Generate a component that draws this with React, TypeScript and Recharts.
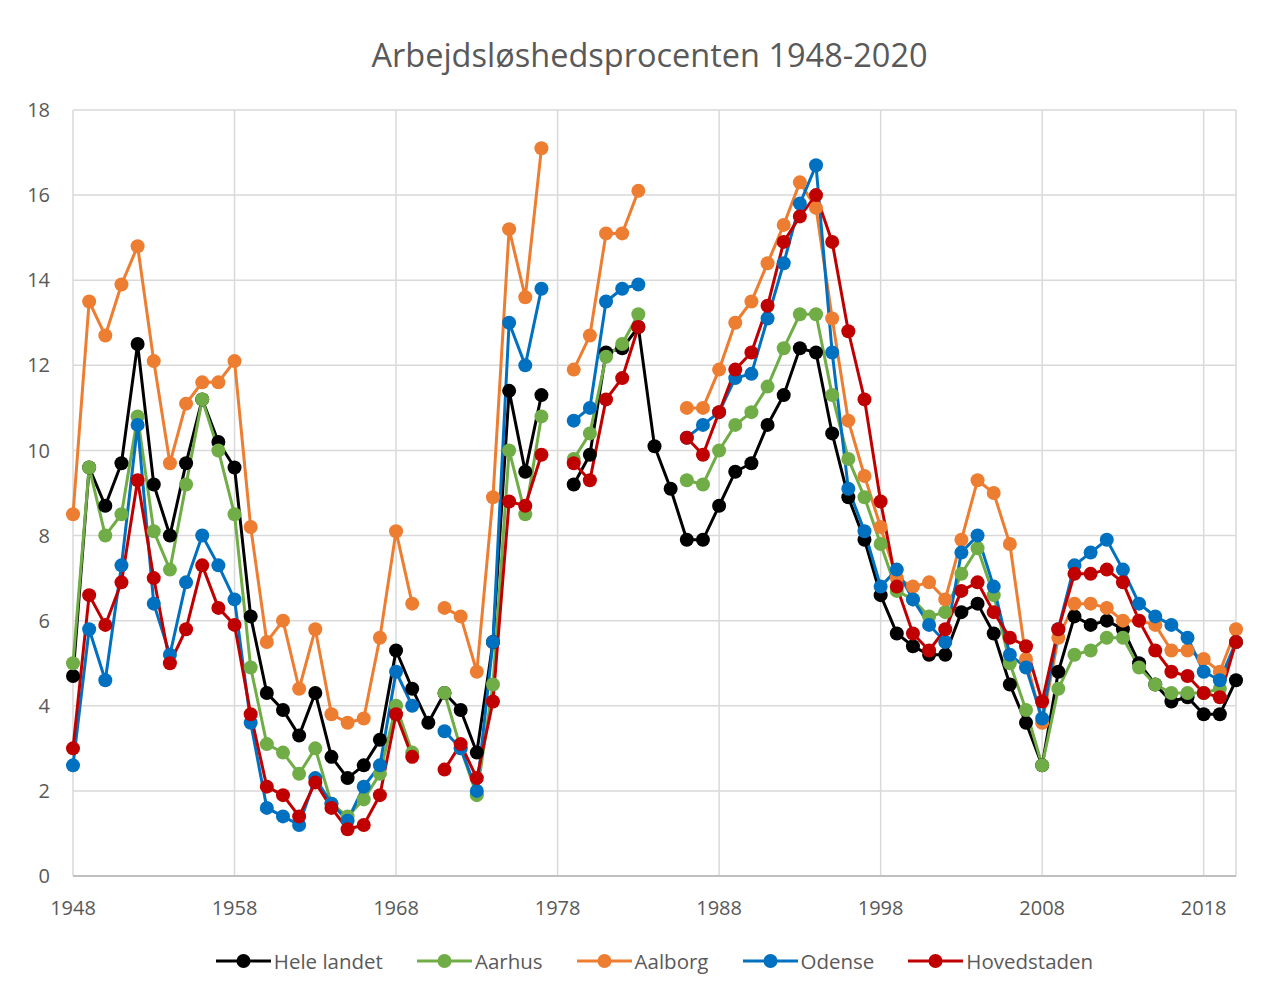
import React from 'react';
import { LineChart, Line, XAxis, YAxis, CartesianGrid, Legend } from 'recharts';

const years: number[] = [];
for (let y = 1948; y <= 2020; y++) years.push(y);

// 1948 ... 2020 (73 values); null = no data
const heleLandet = [
  4.7, 9.6, 8.7, 9.7, 12.5, 9.2, 8.0, 9.7, 11.2, 10.2,
  9.6, 6.1, 4.3, 3.9, 3.3, 4.3, 2.8, 2.3, 2.6, 3.2,
  5.3, 4.4, 3.6, 4.3, 3.9, 2.9, 5.5, 11.4, 9.5, 11.3,
  null, 9.2, 9.9, 12.3, 12.4, 12.9, 10.1, 9.1, 7.9, 7.9,
  8.7, 9.5, 9.7, 10.6, 11.3, 12.4, 12.3, 10.4, 8.9, 7.9,
  6.6, 5.7, 5.4, 5.2, 5.2, 6.2, 6.4, 5.7, 4.5, 3.6,
  2.6, 4.8, 6.1, 5.9, 6.0, 5.8, 5.0, 4.5, 4.1, 4.2,
  3.8, 3.8, 4.6,
];
const aarhus = [
  5.0, 9.6, 8.0, 8.5, 10.8, 8.1, 7.2, 9.2, 11.2, 10.0,
  8.5, 4.9, 3.1, 2.9, 2.4, 3.0, 1.7, 1.4, 1.8, 2.4,
  4.0, 2.9, null, 4.3, 3.0, 1.9, 4.5, 10.0, 8.5, 10.8,
  null, 9.8, 10.4, 12.2, 12.5, 13.2, null, null, 9.3, 9.2,
  10.0, 10.6, 10.9, 11.5, 12.4, 13.2, 13.2, 11.3, 9.8, 8.9,
  7.8, 6.7, 6.5, 6.1, 6.2, 7.1, 7.7, 6.6, 5.0, 3.9,
  2.6, 4.4, 5.2, 5.3, 5.6, 5.6, 4.9, 4.5, 4.3, 4.3,
  4.3, 4.4, 5.5,
];
const aalborg = [
  8.5, 13.5, 12.7, 13.9, 14.8, 12.1, 9.7, 11.1, 11.6, 11.6,
  12.1, 8.2, 5.5, 6.0, 4.4, 5.8, 3.8, 3.6, 3.7, 5.6,
  8.1, 6.4, null, 6.3, 6.1, 4.8, 8.9, 15.2, 13.6, 17.1,
  null, 11.9, 12.7, 15.1, 15.1, 16.1, null, null, 11.0, 11.0,
  11.9, 13.0, 13.5, 14.4, 15.3, 16.3, 15.7, 13.1, 10.7, 9.4,
  8.2, 7.0, 6.8, 6.9, 6.5, 7.9, 9.3, 9.0, 7.8, 5.1,
  3.6, 5.6, 6.4, 6.4, 6.3, 6.0, 6.0, 5.9, 5.3, 5.3,
  5.1, 4.8, 5.8,
];
const odense = [
  2.6, 5.8, 4.6, 7.3, 10.6, 6.4, 5.2, 6.9, 8.0, 7.3,
  6.5, 3.6, 1.6, 1.4, 1.2, 2.3, 1.7, 1.3, 2.1, 2.6,
  4.8, 4.0, null, 3.4, 3.0, 2.0, 5.5, 13.0, 12.0, 13.8,
  null, 10.7, 11.0, 13.5, 13.8, 13.9, null, null, 10.3, 10.6,
  10.9, 11.7, 11.8, 13.1, 14.4, 15.8, 16.7, 12.3, 9.1, 8.1,
  6.8, 7.2, 6.5, 5.9, 5.5, 7.6, 8.0, 6.8, 5.2, 4.9,
  3.7, 5.8, 7.3, 7.6, 7.9, 7.2, 6.4, 6.1, 5.9, 5.6,
  4.8, 4.6, 5.5,
];
const hovedstaden = [
  3.0, 6.6, 5.9, 6.9, 9.3, 7.0, 5.0, 5.8, 7.3, 6.3,
  5.9, 3.8, 2.1, 1.9, 1.4, 2.2, 1.6, 1.1, 1.2, 1.9,
  3.8, 2.8, null, 2.5, 3.1, 2.3, 4.1, 8.8, 8.7, 9.9,
  null, 9.7, 9.3, 11.2, 11.7, 12.9, null, null, 10.3, 9.9,
  10.9, 11.9, 12.3, 13.4, 14.9, 15.5, 16.0, 14.9, 12.8, 11.2,
  8.8, 6.8, 5.7, 5.3, 5.8, 6.7, 6.9, 6.2, 5.6, 5.4,
  4.1, 5.8, 7.1, 7.1, 7.2, 6.9, 6.0, 5.3, 4.8, 4.7,
  4.3, 4.2, 5.5,
];

const xTicks = [1948, 1958, 1968, 1978, 1988, 1998, 2008, 2018];
const yTicks = [0, 2, 4, 6, 8, 10, 12, 14, 16, 18];

const seriesNames = ['Hele landet', 'Aarhus', 'Aalborg', 'Odense', 'Hovedstaden'];
const seriesKeys = ['hele', 'aarhus', 'aalborg', 'odense', 'hoved'];
const seriesColors = ['#000000', '#70AD47', '#ED7D31', '#0070C0', '#C00000'];
const seriesValues = [heleLandet, aarhus, aalborg, odense, hovedstaden];

const data = years.map((year, i) => {
  const row: Record<string, number | null> = { year };
  seriesKeys.forEach((k, j) => {
    row[k] = seriesValues[j][i];
  });
  return row;
});

const FONT = '"Open Sans", sans-serif';
const TEXT = '#595959';

const renderLegend = () => (
  <div
    style={{
      display: 'flex',
      justifyContent: 'center',
      alignItems: 'center',
      height: 55,
      paddingBottom: 6,
      boxSizing: 'border-box',
      fontFamily: FONT,
      fontSize: 20.5,
      color: TEXT,
    }}
  >
    {seriesNames.map((name, i) => (
      <div
        key={name}
        style={{ display: 'flex', alignItems: 'center', marginRight: i < seriesNames.length - 1 ? 34 : 0 }}
      >
        <svg width={55} height={16}>
          <line x1={0} y1={8} x2={55} y2={8} stroke={seriesColors[i]} strokeWidth={3} />
          <circle cx={27.5} cy={8} r={7} fill={seriesColors[i]} />
        </svg>
        <span style={{ marginLeft: 3 }}>{name}</span>
      </div>
    ))}
  </div>
);

export default function App() {
  return (
    <div style={{ position: 'absolute', left: 0, top: 0, width: 1288, height: 991, background: '#fff' }}>
      <div
        style={{
          position: 'absolute',
          left: 0,
          top: 33,
          width: 1299,
          textAlign: 'center',
          fontFamily: FONT,
          fontSize: 32.5,
          lineHeight: '44px',
          color: TEXT,
          zIndex: 2,
        }}
      >
        Arbejdsløshedsprocenten 1948-2020
      </div>
      <LineChart width={1288} height={991} data={data} margin={{ top: 110, right: 52, left: 0, bottom: 0 }}>
        <CartesianGrid stroke="#d9d9d9" strokeWidth={1.5} />
        <XAxis
          dataKey="year"
          type="number"
          domain={[1948, 2020]}
          ticks={xTicks}
          interval={0}
          height={60}
          axisLine={{ stroke: '#bfbfbf', strokeWidth: 2 }}
          tickLine={false}
          tickMargin={19}
          tick={{ fill: TEXT, fontSize: 20, fontFamily: FONT }}
        />
        <YAxis
          domain={[0, 18]}
          ticks={yTicks}
          interval={0}
          width={73}
          axisLine={false}
          tickLine={false}
          tickMargin={17}
          tick={{ fill: TEXT, fontSize: 20, fontFamily: FONT }}
        />
        <Legend
          verticalAlign="bottom"
          content={renderLegend}
          wrapperStyle={{ left: 73, width: 1163, bottom: 0 }}
        />
        {seriesKeys.map((k, i) => (
          <Line
            key={k}
            dataKey={k}
            name={seriesNames[i]}
            stroke={seriesColors[i]}
            strokeWidth={3}
            dot={{ r: 7, fill: seriesColors[i], stroke: seriesColors[i], strokeWidth: 0 }}
            activeDot={false}
            connectNulls={false}
            isAnimationActive={false}
          />
        ))}
      </LineChart>
    </div>
  );
}
